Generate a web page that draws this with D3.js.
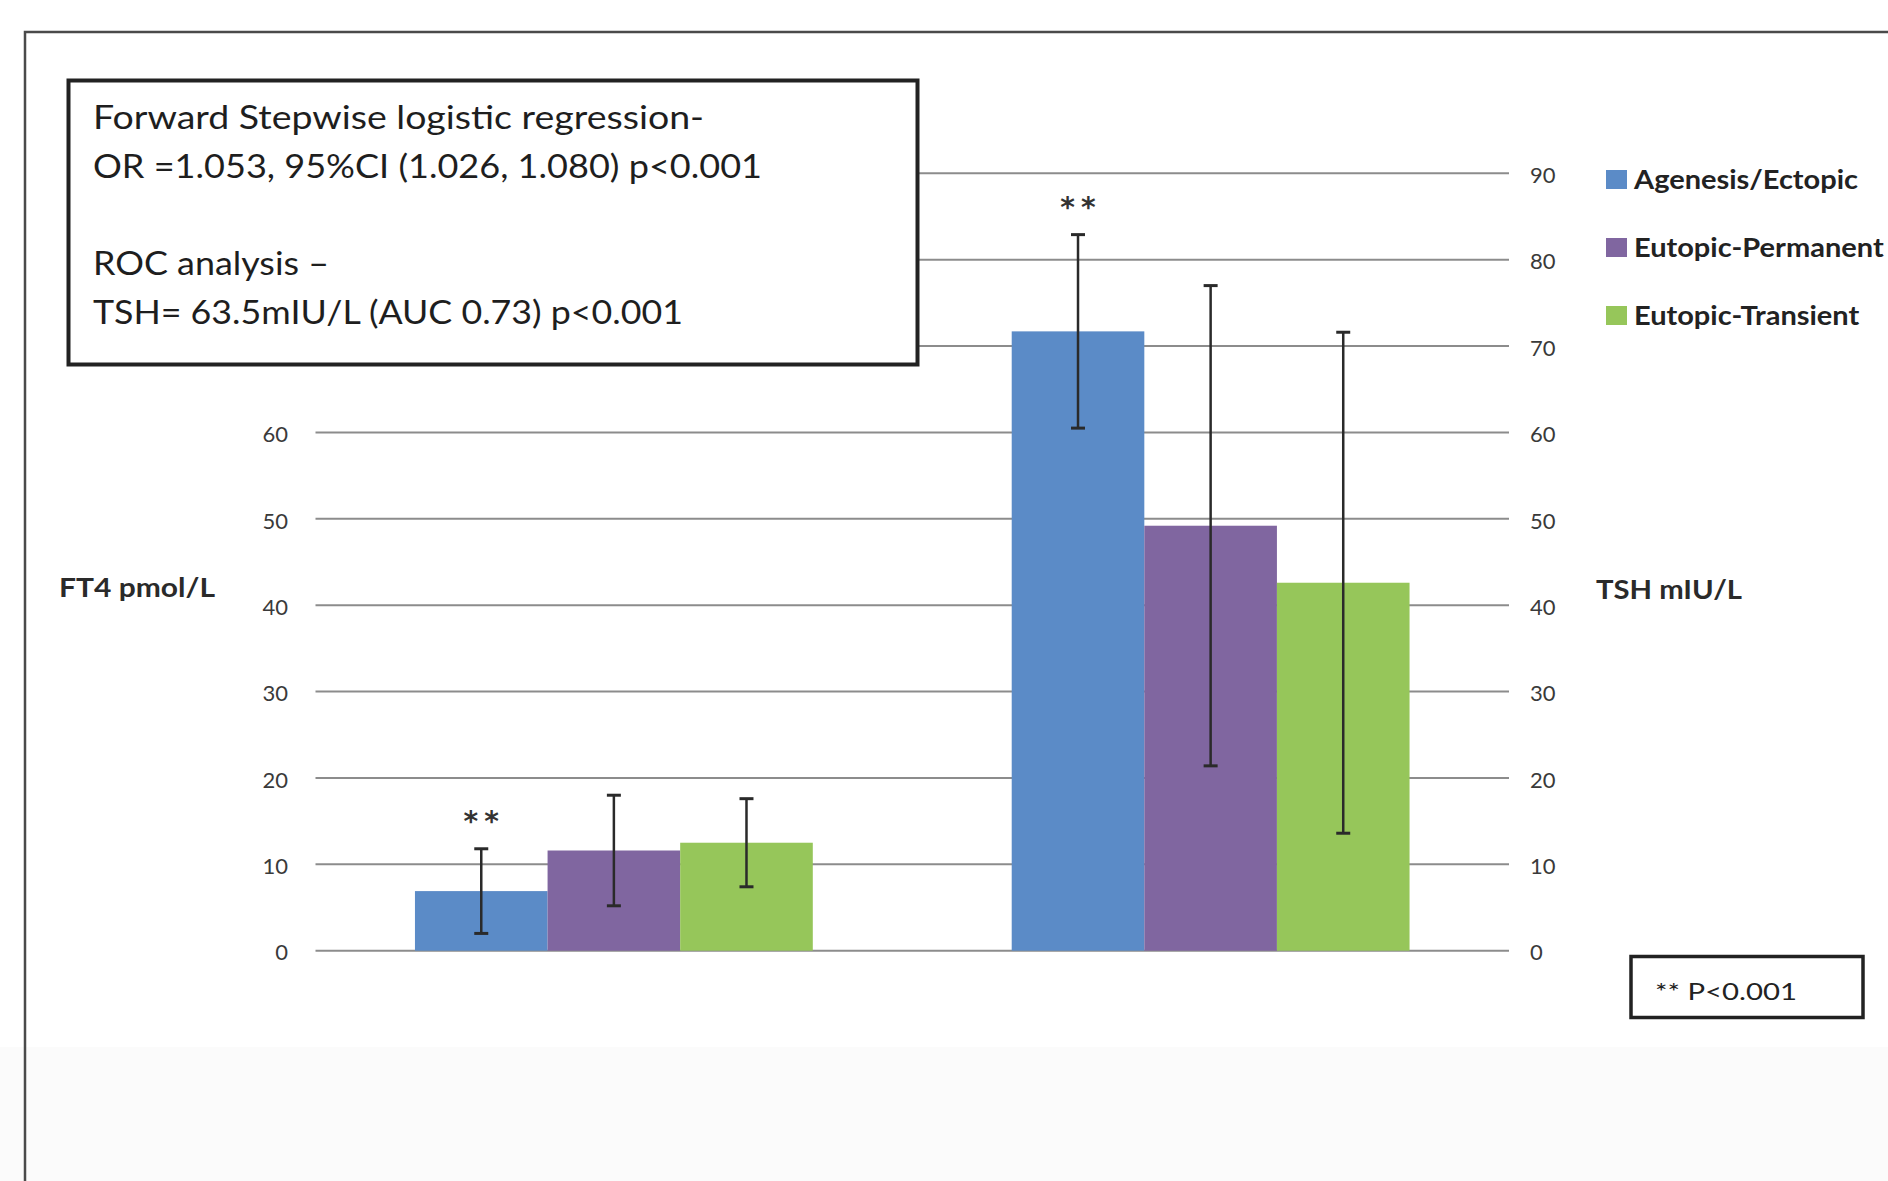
<!DOCTYPE html>
<html>
<head>
<meta charset="utf-8">
<script src="https://cdn.jsdelivr.net/npm/d3@7"></script>
<style>
  html, body { margin: 0; padding: 0; background: #fff; }
  svg { display: block; }
  text { font-family: Lato, "Open Sans", "Liberation Sans", sans-serif; }
</style>
</head>
<body>
<svg id="chart" width="1888" height="1181"></svg>
<script>
// Hormone groups on the x axis
const categories = ["FT4", "TSH"];
// Aetiology series
const seriesNames = ["Agenesis/Ectopic", "Eutopic-Permanent", "Eutopic-Transient"];
const seriesColors = ["#5b8bc7", "#8066a0", "#96c65a"];
// Mean values per category (FT4 pmol/L, TSH mIU/L), one entry per series
const meanFT4 = [6.9, 11.6, 12.5];
const meanTSH = [71.7, 49.2, 42.6];
// Standard deviations (error bars)
const sdFT4 = [4.9, 6.4, 5.1];
const sdTSH = [11.2, 27.8, 29.0];
// Significance marks: [category, series]
const significant = [["FT4", "Agenesis/Ectopic"], ["TSH", "Agenesis/Ectopic"]];
// Gridlines and right-axis ticks
const tickValues = [0, 10, 20, 30, 40, 50, 60, 70, 80, 90];
// Left-axis labels (the upper ones sit under the note box)
const leftTickValues = [0, 10, 20, 30, 40, 50, 60];
// Annotation text
const noteLines = [
  "Forward Stepwise logistic regression-",
  "OR =1.053, 95%CI (1.026, 1.080) p<0.001",
  "",
  "ROC analysis \u2013",
  "TSH= 63.5mIU/L (AUC 0.73) p<0.001"
];

const rows = [];
categories.forEach((c, ci) => {
  const means = ci === 0 ? meanFT4 : meanTSH;
  const sds = ci === 0 ? sdFT4 : sdTSH;
  seriesNames.forEach((s, si) => rows.push({ cat: c, series: s, mean: means[si], sd: sds[si], color: seriesColors[si] }));
});

const svg = d3.select("#chart");

// page background and lower tinted band
svg.append("rect").attr("x", 0).attr("y", 0).attr("width", 1888).attr("height", 1181).attr("fill", "#ffffff");
svg.append("rect").attr("x", 0).attr("y", 1047).attr("width", 1888).attr("height", 134).attr("fill", "#fbfbfb");

// outer frame (open to the right and bottom)
svg.append("path").attr("d", "M25,1181 V32 H1888").attr("fill", "none").attr("stroke", "#4a4a4a").attr("stroke-width", 2.5);

const plotLeft = 315.5, plotRight = 1509;
const y = d3.scaleLinear().domain([0, 90]).range([950.7, 173.3]);
const x0 = d3.scaleBand().domain(categories).range([plotLeft, plotRight]).paddingInner(1 / 3).paddingOuter(1 / 6);
const x1 = d3.scaleBand().domain(seriesNames).range([0, x0.bandwidth()]).padding(0);

// gridlines
svg.append("g").selectAll("line").data(tickValues).join("line")
  .attr("x1", plotLeft).attr("x2", plotRight)
  .attr("y1", d => y(d)).attr("y2", d => y(d))
  .attr("stroke", "#8c8c8c").attr("stroke-width", 2);

// left axis (FT4)
const leftAxis = svg.append("g").attr("transform", "translate(298,0)")
  .call(d3.axisLeft(y).tickValues(leftTickValues).tickSize(0).tickPadding(10));
leftAxis.select(".domain").remove();
leftAxis.selectAll("text").attr("font-size", 22).attr("fill", "#3a3a3a").attr("font-family", "Lato, sans-serif").attr("dy", "0.42em");

// right axis (TSH)
const rightAxis = svg.append("g").attr("transform", `translate(${plotRight},0)`)
  .call(d3.axisRight(y).tickValues(tickValues).tickSize(0).tickPadding(21));
rightAxis.select(".domain").remove();
rightAxis.selectAll("text").attr("font-size", 22).attr("fill", "#3a3a3a").attr("font-family", "Lato, sans-serif").attr("dy", "0.42em");

// bars
const bars = svg.append("g");
bars.selectAll("rect").data(rows).join("rect")
  .attr("x", d => x0(d.cat) + x1(d.series))
  .attr("width", x1.bandwidth())
  .attr("y", d => y(d.mean))
  .attr("height", d => y(0) - y(d.mean))
  .attr("fill", d => d.color);

// error bars
const cap = 7;
const eb = svg.append("g").attr("stroke", "#2a2a2a").attr("stroke-width", 2.5);
rows.forEach(d => {
  const cx = x0(d.cat) + x1(d.series) + x1.bandwidth() / 2;
  const yt = y(d.mean + d.sd), yb = y(Math.max(0, d.mean - d.sd));
  eb.append("line").attr("x1", cx).attr("x2", cx).attr("y1", yt).attr("y2", yb);
  eb.append("line").attr("x1", cx - cap).attr("x2", cx + cap).attr("y1", yt).attr("y2", yt).attr("stroke-width", 3);
  eb.append("line").attr("x1", cx - cap).attr("x2", cx + cap).attr("y1", yb).attr("y2", yb).attr("stroke-width", 3);
});

// significance asterisks above the error bars
significant.forEach(([c, s]) => {
  const d = rows.find(r => r.cat === c && r.series === s);
  const cx = x0(c) + x1(s) + x1.bandwidth() / 2;
  svg.append("text").attr("x", cx + 3).attr("y", y(d.mean + d.sd) - 18)
    .attr("text-anchor", "middle").attr("font-size", 28).attr("font-weight", "bold")
    .attr("letter-spacing", 6).attr("fill", "#333")
    .style("font-family", "'DejaVu Sans', sans-serif")
    .text("**");
});

// axis titles
svg.append("text").attr("x", 59).attr("y", 597).attr("font-size", 26).attr("font-weight", "bold")
  .attr("fill", "#2a2a2a").attr("textLength", 156).attr("lengthAdjust", "spacingAndGlyphs").text("FT4  pmol/L");
svg.append("text").attr("x", 1596).attr("y", 599).attr("font-size", 26).attr("font-weight", "bold")
  .attr("fill", "#2a2a2a").attr("textLength", 146).attr("lengthAdjust", "spacingAndGlyphs").text("TSH  mIU/L");

// legend
const legendTop = [170, 238, 306];
const lg = svg.append("g");
seriesNames.forEach((s, i) => {
  lg.append("rect").attr("x", 1606).attr("y", legendTop[i]).attr("width", 21).attr("height", 19).attr("fill", seriesColors[i]);
  lg.append("text").attr("x", 1634).attr("y", legendTop[i] + 19).attr("font-size", 26).attr("font-weight", "bold")
    .attr("fill", "#222").attr("class", "lgtext").text(s);
});
// scale all legend labels by the same ratio so the first label spans its measured width
const lgTexts = lg.selectAll("text.lgtext").nodes();
const ratio = 224 / lgTexts[0].getComputedTextLength();
lgTexts.forEach(n => {
  const w = n.getComputedTextLength() * ratio;
  d3.select(n).attr("textLength", w).attr("lengthAdjust", "spacingAndGlyphs");
});

// statistics note box
svg.append("rect").attr("x", 68.5).attr("y", 80.5).attr("width", 849).attr("height", 284)
  .attr("fill", "#fff").attr("stroke", "#222").attr("stroke-width", 4);
const noteBaselines = [129, 178, 226, 275, 324];
const noteWidths = [611, 669, 0, 236, 590];
noteLines.forEach((t, i) => {
  if (!t) return;
  svg.append("text").attr("x", 93).attr("y", noteBaselines[i]).attr("font-size", 32)
    .attr("fill", "#1e1e1e").attr("textLength", noteWidths[i]).attr("lengthAdjust", "spacingAndGlyphs").text(t);
});

// p-value key box
svg.append("rect").attr("x", 1631).attr("y", 956.5).attr("width", 232).attr("height", 61)
  .attr("fill", "#fff").attr("stroke", "#222").attr("stroke-width", 3.5);
svg.append("text").attr("x", 1655).attr("y", 1000).attr("font-size", 24).attr("fill", "#222")
  .attr("textLength", 142).attr("lengthAdjust", "spacingAndGlyphs").text("** P<0.001");
</script>
</body>
</html>
